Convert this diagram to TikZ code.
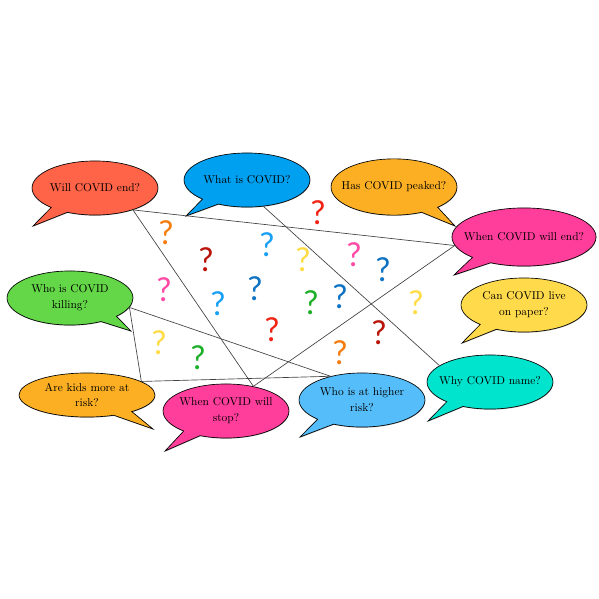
\documentclass[tikz,border=0pt]{standalone}
\usepackage{fontspec}
\newfontfamily\qfont{Lato}
\usetikzlibrary{shapes.callouts,shadows}

\definecolor{willred}{RGB}{255,99,72}
\definecolor{whatblue}{RGB}{0,160,240}
\definecolor{peakorange}{RGB}{252,175,35}
\definecolor{endpink}{RGB}{255,62,155}
\definecolor{killgreen}{RGB}{100,215,72}
\definecolor{paperyellow}{RGB}{255,218,75}
\definecolor{higherblue}{RGB}{85,190,250}
\definecolor{whyteal}{RGB}{0,228,205}
\definecolor{qorange}{RGB}{245,125,15}
\definecolor{qdarkred}{RGB}{185,20,10}
\definecolor{qlightblue}{RGB}{25,160,245}
\definecolor{qyellow}{RGB}{255,220,70}
\definecolor{qred}{RGB}{240,35,20}
\definecolor{qpink}{RGB}{255,75,165}
\definecolor{qblue}{RGB}{15,115,195}
\definecolor{qgreen}{RGB}{30,175,40}

\tikzset{
  bubble/.style={ellipse callout, draw, line width=0.6pt, inner xsep=-12pt, inner ysep=0pt,
    minimum width=40.3mm, minimum height=17.3mm, align=center, callout pointer arc=18,
    font=\fontsize{10.4}{12.5}\selectfont,
    drop shadow={shadow xshift=0.3pt, shadow yshift=-0.6pt, opacity=0.6}},
  link/.style={draw=black!75, line width=0.6pt},
  qmark/.style={font=\qfont\fontsize{30}{36}\selectfont, inner sep=0pt},
}

\begin{document}
\begin{tikzpicture}[x=0.32mm, y=-0.32mm]
  \useasboundingbox (0,0) rectangle (599,599);
  % speech bubbles
  \node[bubble, fill=willred, callout absolute pointer={(33,226)}] (will) at (95,188) {Will COVID end?};
  \node[bubble, fill=whatblue, callout absolute pointer={(186,216)}] (what) at (247,180) {What is COVID?};
  \node[bubble, fill=peakorange, minimum height=18mm, callout absolute pointer={(455,226)}] (peaked) at (394,187) {Has COVID peaked?};
  \node[bubble, fill=endpink, minimum width=46.1mm, minimum height=18.6mm, callout absolute pointer={(454,275)}] (whenend) at (524,237) {When COVID will end?};
  \node[bubble, fill=killgreen, callout absolute pointer={(131,331)}] (killing) at (70,298) {Who is COVID\\[2pt] killing?};
  \node[bubble, fill=paperyellow, callout absolute pointer={(462,343)}] (paper) at (524,305) {Can COVID live\\[2pt] on paper?};
  \node[bubble, fill=peakorange, minimum width=43.5mm, minimum height=14.1mm, callout absolute pointer={(153,429)}] (kids) at (87,395) {Are kids more at\\[2pt] risk?};
  \node[bubble, fill=endpink, callout absolute pointer={(165,451)}] (stop) at (226,411) {When COVID will\\[2pt] stop?};
  \node[bubble, fill=higherblue, callout absolute pointer={(300,437)}] (higher) at (362,400) {Who is at higher\\[2pt] risk?};
  \node[bubble, fill=whyteal, callout absolute pointer={(428,421)}] (why) at (490,382) {Why COVID name?};
  % connecting lines
  \draw[link] (will.-30) -- (whenend.187);
  \draw[link] (will.-30) -- (stop.42);
  \draw[link] (whenend.187) -- (stop.42);
  \draw[link] (what.-58) -- (why.162);
  \draw[link] (killing.-9) -- (higher.143);
  \draw[link] (killing.-9) -- (kids.14) -- (higher.143);
  % question marks
  \node[qmark, text=qorange] (q1) at (166,233) {?};
  \node[qmark, text=qdarkred] (q2) at (206,260) {?};
  \node[qmark, text=qlightblue] (q3) at (267,245) {?};
  \node[qmark, text=qyellow] (q4) at (303,260) {?};
  \node[qmark, text=qred] (q5) at (318,213) {?};
  \node[qmark, text=qpink] (q6) at (354,255) {?};
  \node[qmark, text=qblue] (q7) at (383,270) {?};
  \node[qmark, text=qpink] (q8) at (164,290) {?};
  \node[qmark, text=qlightblue] (q9) at (218,304) {?};
  \node[qmark, text=qblue] (q10) at (255,289) {?};
  \node[qmark, text=qgreen] (q11) at (311,303) {?};
  \node[qmark, text=qblue] (q12) at (340,297) {?};
  \node[qmark, text=qyellow] (q13) at (416,303) {?};
  \node[qmark, text=qred] (q14) at (272,330) {?};
  \node[qmark, text=qdarkred] (q15) at (379,333) {?};
  \node[qmark, text=qorange] (q16) at (340,353) {?};
  \node[qmark, text=qyellow] (q17) at (159,343) {?};
  \node[qmark, text=qgreen] (q18) at (198,358) {?};
\end{tikzpicture}
\end{document}
